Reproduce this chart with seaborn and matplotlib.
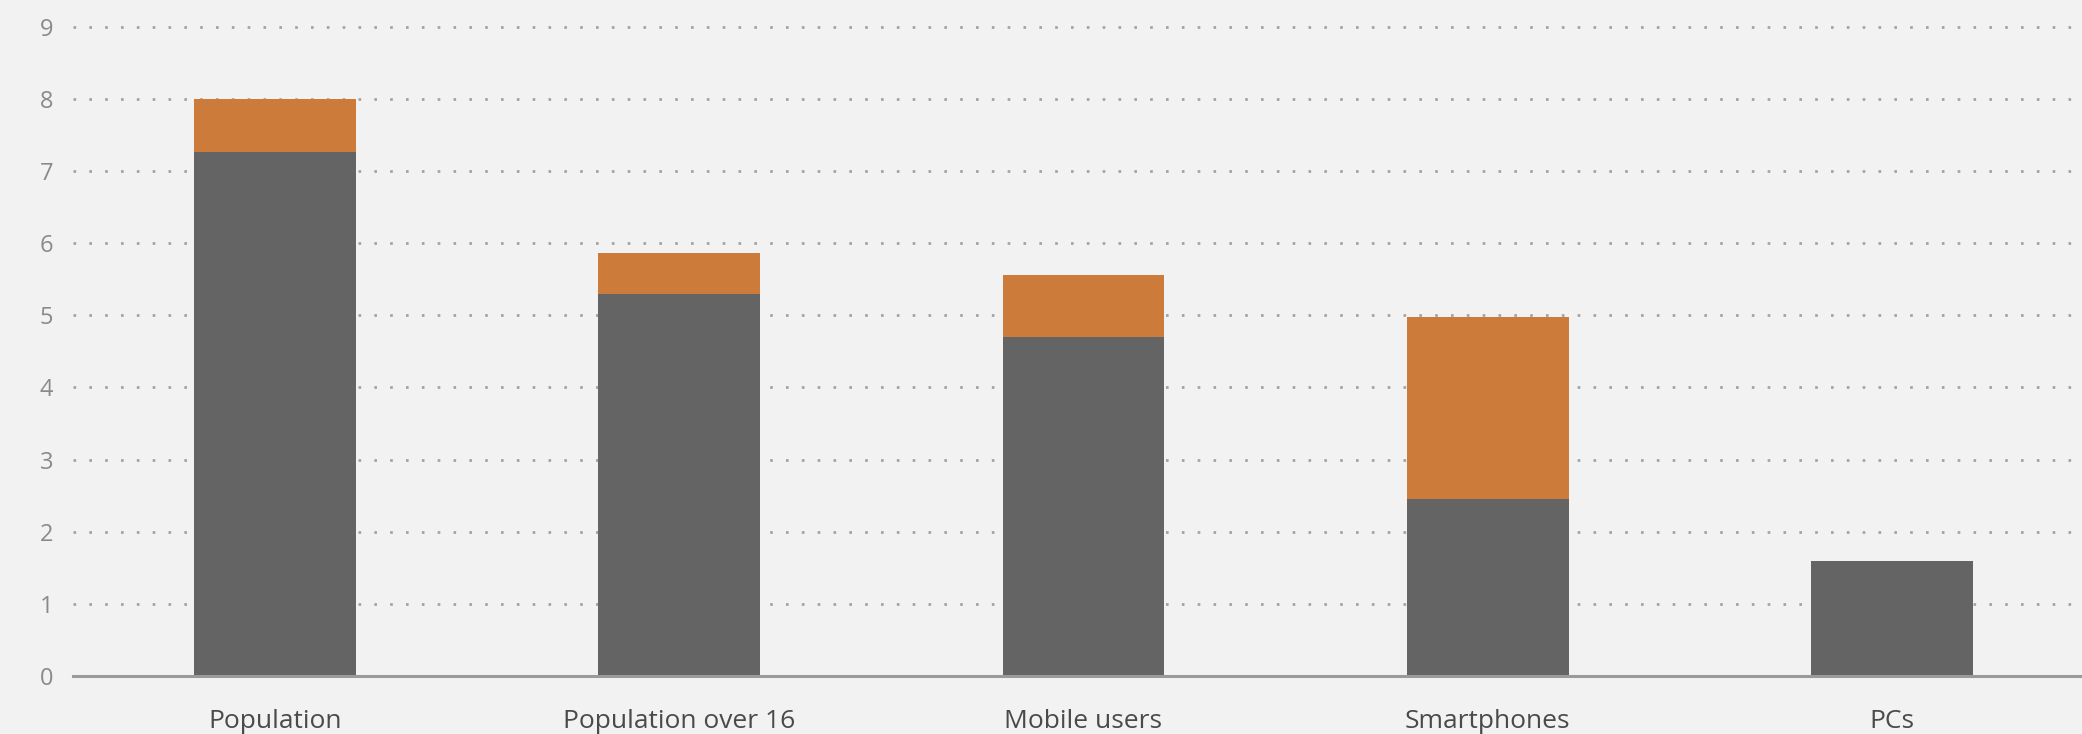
import matplotlib
matplotlib.use("Agg")
import matplotlib.pyplot as plt
import seaborn as sns
import pandas as pd

categories = ["Population", "Population over 16", "Mobile users", "Smartphones", "PCs"]
base_values = [7.27, 5.30, 4.70, 2.45, 1.60]
extra_values = [0.73, 0.57, 0.86, 2.52, 0.0]
y_ticks = [0, 1, 2, 3, 4, 5, 6, 7, 8, 9]

BG = "#f2f2f2"
GRAY = "#646464"
ORANGE = "#cd7b3a"

sns.set_theme(style="white")
plt.rcParams["font.family"] = ["Open Sans", "DejaVu Sans"]

df = pd.DataFrame({
    "category": categories,
    "base": base_values,
    "total": [b + e for b, e in zip(base_values, extra_values)],
})

fig = plt.figure(figsize=(20.82, 7.34), dpi=100, facecolor=BG)
ax = fig.add_axes([0.035, 0.079, 0.965, 0.921])
ax.set_facecolor(BG)

sns.barplot(data=df, x="category", y="total", color=ORANGE, width=0.4,
            saturation=1, linewidth=0, edgecolor=ORANGE, ax=ax, zorder=2)
sns.barplot(data=df, x="category", y="base", color=GRAY, width=0.4,
            saturation=1, linewidth=0, edgecolor=GRAY, ax=ax, zorder=3)

ax.set_xlim(-0.5, 4.47)
ax.set_ylim(0, 9.37)
ax.set_yticks(y_ticks)
ax.set_yticklabels([str(t) for t in y_ticks])
ax.set_xlabel("")
ax.set_ylabel("")

for s in ["top", "right", "left"]:
    ax.spines[s].set_visible(False)
ax.spines["bottom"].set_color("#9a9a9a")
ax.spines["bottom"].set_linewidth(2.2)
ax.spines["bottom"].set_zorder(4)

ax.yaxis.grid(True, color="#a0a0a0", linestyle=(0, (1, 5)), linewidth=1.9)
ax.xaxis.grid(False)
ax.set_axisbelow(True)

ax.tick_params(axis="y", length=0, labelsize=17, labelcolor="#8a8a8a", pad=14)
ax.tick_params(axis="x", length=0, labelsize=19, labelcolor="#4a4a4a", pad=24)

fig.savefig("out.png", dpi=100, facecolor=BG)
